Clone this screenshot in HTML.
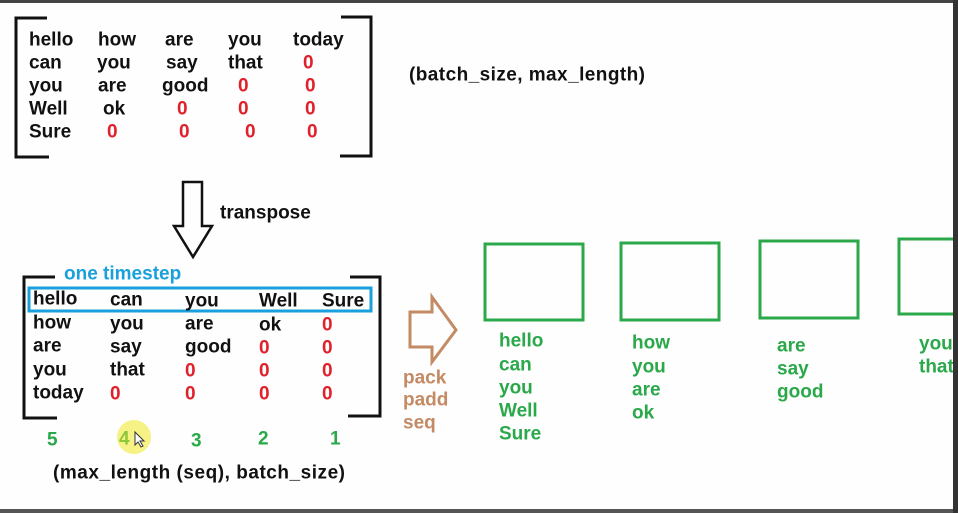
<!DOCTYPE html>
<html><head><meta charset="utf-8"><style>
html,body{margin:0;padding:0;background:#fdfefd;}
svg{display:block}
text{font-family:"Liberation Sans",Arial,sans-serif;font-weight:bold;font-size:19px;dominant-baseline:central}
.k{fill:#111}.r{fill:#e0202a}.g{fill:#2aa84a}.b{fill:#1aa0dc}.o{fill:#c48a64}
</style></head><body>
<svg width="958" height="513" viewBox="0 0 958 513">
<rect x="0" y="0" width="958" height="3" fill="#444"/>
<rect x="0" y="509" width="958" height="4" fill="#555"/>
<rect x="953" y="0" width="5" height="513" fill="#333"/>
<g fill="none" stroke="#111" stroke-width="3">
<path d="M47,18 H16 V157 H49"/>
<path d="M341,17 H371 V156 H340"/>
<path d="M55,277 H24 V418 H57"/>
<path d="M350,277 H380 V416 H348"/>
<path d="M183,182 H202 V226 H212 L193,257 L174,226 H183 Z" stroke-width="2.5"/>
</g>
<path d="M410,312 H432 V297 L456,330 L432,362 V347 H410 Z" fill="none" stroke="#c48a64" stroke-width="3"/>
<rect x="29" y="288" width="342" height="23" fill="none" stroke="#1aa0dc" stroke-width="3"/>
<g fill="none" stroke="#2aa84a" stroke-width="3">
<rect x="485" y="244" width="98" height="76"/>
<rect x="621" y="243" width="98" height="77"/>
<rect x="760" y="241" width="98" height="77"/>
<rect x="899" y="239" width="70" height="75"/>
</g>
<circle cx="134" cy="437" r="17" fill="#f4f070" opacity="0.85"/>
<!-- top matrix -->
<g class="k">
<text x="29" y="40">hello</text><text x="98" y="40">how</text><text x="165" y="40">are</text><text x="228" y="40">you</text><text x="293" y="40">today</text>
<text x="29" y="63">can</text><text x="97" y="63">you</text><text x="166" y="63">say</text><text x="228" y="63">that</text>
<text x="29" y="86">you</text><text x="98" y="86">are</text><text x="162" y="86">good</text>
<text x="29" y="109">Well</text><text x="103" y="109">ok</text>
<text x="29" y="132">Sure</text>
</g>
<g class="r">
<text x="303" y="63">0</text>
<text x="238" y="86">0</text><text x="305" y="86">0</text>
<text x="177" y="109">0</text><text x="238" y="109">0</text><text x="305" y="109">0</text>
<text x="107" y="132">0</text><text x="179" y="132">0</text><text x="245" y="132">0</text><text x="307" y="132">0</text>
</g>
<text class="k" x="409" y="75" textLength="236">(batch_size, max_length)</text>
<text class="k" x="220" y="213">transpose</text>
<text class="b" x="64" y="274">one timestep</text>
<!-- bottom matrix -->
<g class="k">
<text x="33" y="299">hello</text><text x="110" y="300">can</text><text x="185" y="301">you</text><text x="259" y="301">Well</text><text x="322" y="301">Sure</text>
<text x="33" y="323">how</text><text x="110" y="324">you</text><text x="185" y="324">are</text><text x="259" y="325">ok</text>
<text x="33" y="346">are</text><text x="110" y="347">say</text><text x="185" y="347">good</text>
<text x="33" y="370">you</text><text x="110" y="370">that</text>
<text x="33" y="393">today</text>
</g>
<g class="r">
<text x="322" y="325">0</text>
<text x="259" y="348">0</text><text x="322" y="348">0</text>
<text x="185" y="371">0</text><text x="259" y="371">0</text><text x="322" y="371">0</text>
<text x="110" y="394">0</text><text x="185" y="394">0</text><text x="259" y="394">0</text><text x="322" y="394">0</text>
</g>
<g class="g">
<text x="47" y="440">5</text><text x="119" y="439" fill="#8cc83a">4</text><text x="191" y="441">3</text><text x="258" y="439">2</text><text x="330" y="439">1</text>
</g>
<path d="M135,432 v13 l3,-3 l3,5 l2,-1 l-3,-5 h4 z" fill="#fff" stroke="#333" stroke-width="1"/>
<text class="k" x="53" y="473" textLength="292">(max_length (seq), batch_size)</text>
<g class="o"><text x="403" y="378">pack</text><text x="403" y="400">padd</text><text x="403" y="423">seq</text></g>
<g class="g">
<text x="499" y="341">hello</text><text x="499" y="365">can</text><text x="499" y="388">you</text><text x="499" y="411">Well</text><text x="499" y="434">Sure</text>
<text x="632" y="343">how</text><text x="632" y="367">you</text><text x="632" y="390">are</text><text x="632" y="413">ok</text>
<text x="777" y="346">are</text><text x="777" y="369">say</text><text x="777" y="392">good</text>
<text x="919" y="344">you</text><text x="919" y="367">that</text>
</g>
<rect x="953" y="0" width="5" height="513" fill="#333"/>
</svg>
</body></html>
